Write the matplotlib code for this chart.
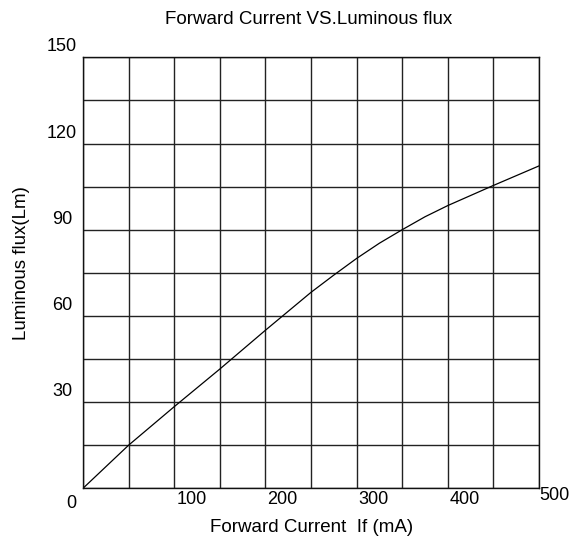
import matplotlib
matplotlib.use("Agg")
import matplotlib.pyplot as plt

plt.rcParams['font.family'] = ['Liberation Sans', 'DejaVu Sans']

# curve
current_ma = [0, 50, 100, 150, 200, 250, 275, 300, 325, 350, 375, 400, 450, 500]
flux_lm = [0, 15, 28.4, 41.5, 55, 68.2, 74.2, 80, 85.3, 90, 94.5, 98.4, 105.4, 112.2]

x_labels = [0, 100, 200, 300, 400, 500]
y_labels = [30, 60, 90, 120, 150]

fig = plt.figure(figsize=(5.72, 5.4), dpi=100)
ax = fig.add_axes([83 / 572, 1 - 488.3 / 540, 456 / 572, 431 / 540])

ax.set_xlim(0, 500)
ax.set_ylim(0, 150)
ax.set_xticks(range(0, 501, 50))
ax.set_yticks(range(0, 151, 15))
ax.tick_params(length=0, labelbottom=False, labelleft=False)
ax.grid(True, color='#222222', linewidth=1.0)
for s in ax.spines.values():
    s.set_color('#111111')
    s.set_linewidth(1.0)

ax.plot(current_ma, flux_lm, color='black', linewidth=0.9)

# tick labels placed the way the datasheet does it
for v in x_labels:
    if v == 0:
        dx, dy, ha = -7, -15, 'right'
    elif v == 500:
        dx, dy, ha = 0, -7, 'left'
    else:
        dx, dy, ha = 2, -11, 'left'
    ax.annotate(str(v), xy=(v, 0), xycoords=('data', 'axes fraction'),
                xytext=(dx, dy), textcoords='offset pixels',
                ha=ha, va='center', fontsize=13)
for v in y_labels:
    ax.annotate(str(v), xy=(0, v), xycoords=('axes fraction', 'data'),
                xytext=(-21, 2), textcoords='offset pixels',
                ha='center', va='bottom', fontsize=13)

fig.text(309 / 572, 1 - 20 / 540, 'Forward Current VS.Luminous flux',
         ha='center', va='center', fontsize=13.5)
fig.text(311.5 / 572, 1 - 527 / 540, 'Forward Current  If (mA)',
         ha='center', va='center', fontsize=13.5)
fig.text(22 / 572, 1 - 263 / 540, 'Luminous flux(Lm)', rotation=90,
         ha='center', va='center', fontsize=13.5)

fig.savefig('out.png', dpi=100)
